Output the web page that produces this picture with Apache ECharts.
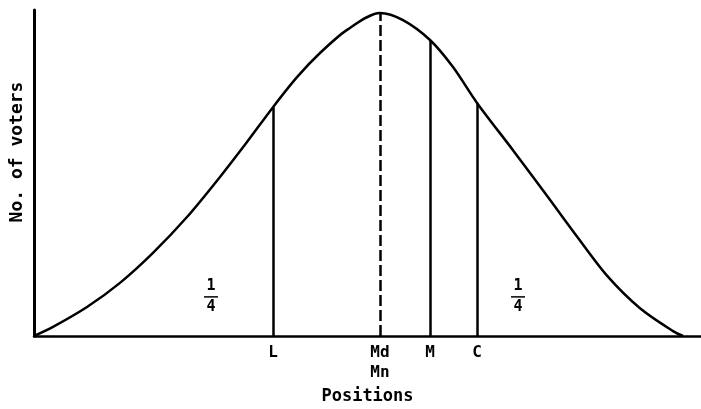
<!DOCTYPE html>
<html>
<head>
<meta charset="utf-8">
<script src="https://cdn.jsdelivr.net/npm/echarts@6/dist/echarts.min.js"></script>
<style>
  html, body { margin: 0; padding: 0; background: #fff; }
  #chart { width: 701px; height: 409px; }
</style>
</head>
<body>
<div id="chart"></div>
<script>
// curve (position, no. of voters)
const curveX = [0, 19, 53, 86, 119, 153, 186, 213, 239, 263, 286, 313, 346, 369, 396, 419, 443, 479, 513, 543, 573, 606, 639, 649]
const curveY = [0, 2.8, 8.9, 16.3, 25.5, 36.5, 48.8, 59.5, 70.2, 79.4, 86.8, 93.9, 99.1, 96.9, 90.8, 82.5, 71.5, 57.0, 43.0, 30.5, 18.5, 8.5, 1.5, 0]

// vertical markers
const markNames = ['L', 'Md\nMn', 'M', 'C']
const markX = [239, 346, 396, 443]
const markTop = [70.2, 99.1, 90.8, 71.5]
const markDashed = [false, true, false, false]

// the two "1/4" areas
const quarterX = [177, 484]
const quarterY = [12, 12]

const font = '"DejaVu Sans Mono", monospace'
const chart = echarts.init(document.getElementById('chart'))

const markLines = markX.map((x, i) => [
  { coord: [x, 0], lineStyle: { type: markDashed[i] ? [11, 4] : 'solid' } },
  { coord: [x, markTop[i]] }
])

chart.setOption({
  animation: false,
  grid: { left: 34, right: 0, top: 10, bottom: 73, containLabel: false, outerBoundsMode: 'none' },
  xAxis: {
    type: 'value',
    min: 0,
    max: 667,
    name: 'Positions',
    nameLocation: 'middle',
    nameGap: 51,
    nameTextStyle: { fontFamily: font, fontSize: 17, fontWeight: 'bold', color: '#000' },
    axisLine: { show: true, onZero: false, lineStyle: { color: '#000', width: 2.5 } },
    axisTick: { show: false },
    splitLine: { show: false },
    axisLabel: {
      customValues: markX,
      formatter: v => markNames[markX.indexOf(v)] || '',
      fontFamily: font,
      fontSize: 16,
      fontWeight: 'bold',
      lineHeight: 20,
      color: '#000',
      margin: 7,
      verticalAlign: 'top'
    }
  },
  yAxis: {
    type: 'value',
    min: 0,
    max: 100,
    name: 'No. of voters',
    nameLocation: 'middle',
    nameGap: 8,
    nameTextStyle: { fontFamily: font, fontSize: 18, fontWeight: 'bold', color: '#000', padding: [0, 0, 0, 42] },
    axisLine: { show: true, lineStyle: { color: '#000', width: 3 } },
    axisTick: { show: false },
    axisLabel: { show: false },
    splitLine: { show: false }
  },
  series: [
    {
      type: 'line',
      data: curveX.map((x, i) => [x, curveY[i]]),
      smooth: 0.3,
      symbol: 'none',
      lineStyle: { color: '#000', width: 2.5 },
      markLine: {
        silent: true,
        symbol: 'none',
        label: { show: false },
        lineStyle: { color: '#000', width: 2.5 },
        data: markLines
      }
    }
  ]
})

// the "1/4" fractions, placed at data positions
const fractions = quarterX.map((x, i) => {
  const p = chart.convertToPixel({ gridIndex: 0 }, [x, quarterY[i]])
  return {
    type: 'group',
    x: p[0],
    y: p[1],
    children: [
      { type: 'text', style: { text: '1', x: 0, y: -3, fontFamily: font, fontSize: 15, fontWeight: 'bold', fill: '#000', align: 'center', verticalAlign: 'bottom' } },
      { type: 'line', shape: { x1: -7, y1: 0, x2: 7, y2: 0 }, style: { stroke: '#000', lineWidth: 1.5 } },
      { type: 'text', style: { text: '4', x: 0, y: 3, fontFamily: font, fontSize: 15, fontWeight: 'bold', fill: '#000', align: 'center', verticalAlign: 'top' } }
    ]
  }
})
chart.setOption({ graphic: fractions })
</script>
</body>
</html>
